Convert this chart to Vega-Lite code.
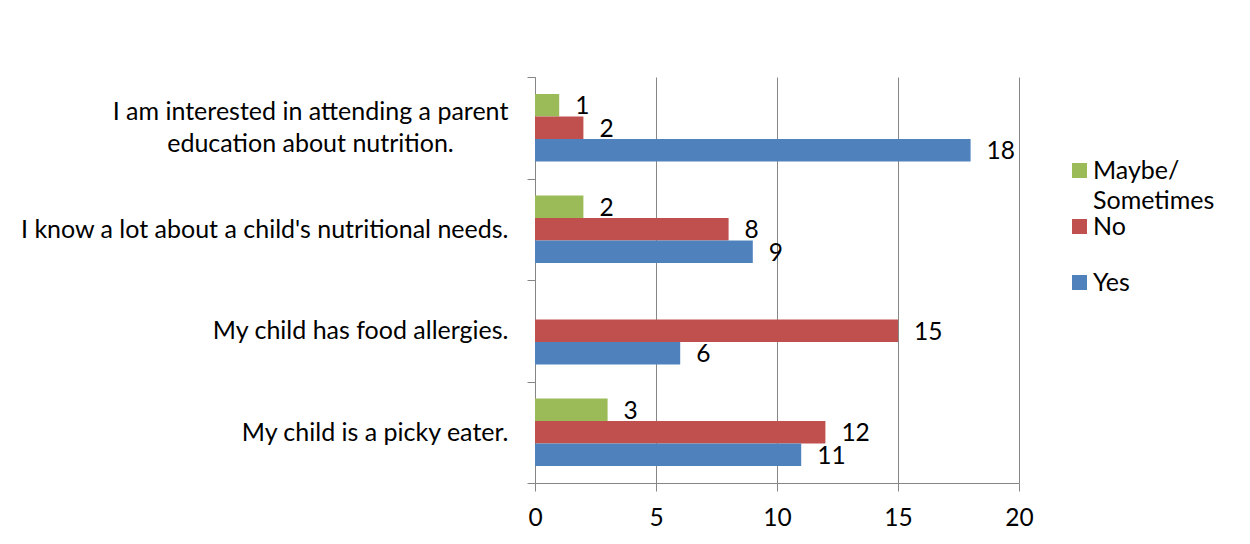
{
  "$schema": "https://vega.github.io/schema/vega-lite/v6.json",
  "width": 484,
  "height": 406,
  "autosize": {"type": "none"},
  "padding": {"left": 535, "top": 77, "right": 231, "bottom": 61},
  "background": "white",
  "config": {"font": "Lato", "view": {"stroke": null}},
  "data": {
    "values": [
      {"q": "I am interested in attending a parent education about nutrition.", "s": "Maybe/ Sometimes", "v": 1},
      {"q": "I am interested in attending a parent education about nutrition.", "s": "No", "v": 2},
      {"q": "I am interested in attending a parent education about nutrition.", "s": "Yes", "v": 18},
      {"q": "I know a lot about a child's nutritional needs.", "s": "Maybe/ Sometimes", "v": 2},
      {"q": "I know a lot about a child's nutritional needs.", "s": "No", "v": 8},
      {"q": "I know a lot about a child's nutritional needs.", "s": "Yes", "v": 9},
      {"q": "My child has food allergies.", "s": "No", "v": 15},
      {"q": "My child has food allergies.", "s": "Yes", "v": 6},
      {"q": "My child is a picky eater.", "s": "Maybe/ Sometimes", "v": 3},
      {"q": "My child is a picky eater.", "s": "No", "v": 12},
      {"q": "My child is a picky eater.", "s": "Yes", "v": 11}
    ]
  },
  "encoding": {
    "y": {
      "field": "q",
      "type": "nominal",
      "sort": null,
      "scale": {"paddingInner": 0, "paddingOuter": 0},
      "axis": {
        "title": null,
        "tickBand": "extent",
        "tickSize": 8,
        "labelPadding": {"condition": {"test": "datum.value == 'I am interested in attending a parent education about nutrition.'", "value": 217}, "value": 19},
        "labelAlign": {"condition": {"test": "datum.value == 'I am interested in attending a parent education about nutrition.'", "value": "center"}, "value": "right"},
        "labelOffset": {"condition": {"test": "datum.value == 'I am interested in attending a parent education about nutrition.'", "value": -16}, "value": 0},
        "domainColor": "#868686",
        "tickColor": "#868686",
        "labelFontSize": 25,
        "labelColor": "black",
        "labelLimit": 0,
        "labelLineHeight": 32,
        "labelExpr": "datum.label == 'I am interested in attending a parent education about nutrition.' ? ['I am interested in attending a parent', 'education about nutrition.'] : datum.label"
      }
    },
    "yOffset": {
      "field": "s",
      "type": "nominal",
      "sort": ["Maybe/ Sometimes", "No", "Yes"],
      "scale": {"paddingInner": 0, "paddingOuter": 0.755}
    },
    "x": {
      "field": "v",
      "type": "quantitative",
      "scale": {"domain": [0, 20]},
      "axis": {
        "title": null,
        "values": [0, 5, 10, 15, 20],
        "grid": true,
        "gridColor": "#868686",
        "domainColor": "#868686",
        "tickColor": "#868686",
        "tickSize": 8,
        "labelFontSize": 24.5,
        "labelColor": "black",
        "labelPadding": 15,
        "labelFlush": false
      }
    }
  },
  "layer": [
    {
      "mark": {"type": "bar"},
      "encoding": {
        "color": {
          "field": "s",
          "type": "nominal",
          "scale": {"domain": ["Maybe/ Sometimes", "No", "Yes"], "range": ["#9BBB59", "#C0504D", "#4F81BD"]},
          "legend": {
            "orient": "none",
            "legendX": 532,
            "legendY": 81,
            "padding": 0,
            "rowPadding": 0,
            "title": null,
            "symbolType": "square",
            "symbolSize": 225,
            "symbolStrokeWidth": 0,
            "labelFontSize": 25,
            "labelColor": "black",
            "labelOffset": 1,
            "labelBaseline": "middle",
            "labelLimit": 0,
            "labelExpr": "datum.label == 'Maybe/ Sometimes' ? ['Maybe/', 'Sometimes'] : [datum.label, '']",
            "encode": {"labels": {"update": {"lineHeight": {"value": 30}}}}
          }
        }
      }
    },
    {
      "mark": {"type": "text", "align": "left", "baseline": "middle", "dx": 16, "dy": 2, "fontSize": 24.5, "color": "black"},
      "encoding": {"text": {"field": "v", "type": "quantitative"}}
    }
  ]
}
